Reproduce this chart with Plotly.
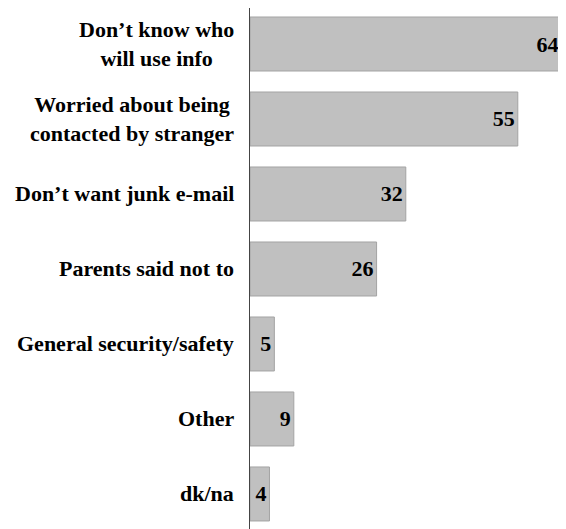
import plotly.graph_objects as go

categories = ["Don’t know who<br>will use info",
              "Worried about being<br>contacted by stranger",
              "Don’t want junk e-mail",
              "Parents said not to",
              "General security/safety",
              "Other",
              "dk/na"]
values = [64, 55, 32, 26, 5, 9, 4]

FONT = "Liberation Serif"
positions = list(range(len(categories)))

fig = go.Figure()
fig.add_trace(go.Bar(
    y=positions, x=values, orientation="h",
    width=0.72,
    marker=dict(color="#c0c0c0", line=dict(color="#a3a3a3", width=1)),
    text=[f"<b>{v}</b>" for v in values],
    textposition="inside", insidetextanchor="end",
    textfont=dict(family=FONT, size=22, color="black"),
    constraintext="none",
    cliponaxis=False,
))

for p, c in zip(positions, categories):
    fig.add_annotation(x=0, y=p, xref="x", yref="y", text=f"<b>{c}</b>",
                       showarrow=False, xanchor="right", yanchor="middle",
                       align="center", xshift=-14,
                       font=dict(family=FONT, size=22, color="black"))

# page body has an 8px default margin; compensate so the visible picture matches
fig.update_layout(
    width=558, height=521,
    margin=dict(l=242, r=0, t=0, b=0),
    paper_bgcolor="white", plot_bgcolor="white",
    showlegend=False,
    xaxis=dict(range=[0, 64.9], visible=False, fixedrange=True),
    yaxis=dict(range=[6.467, -0.48], showticklabels=False, showgrid=False,
               zeroline=False, showline=True, linecolor="#444444", linewidth=1,
               ticks="", fixedrange=True),
)
fig.write_html("out.html")
